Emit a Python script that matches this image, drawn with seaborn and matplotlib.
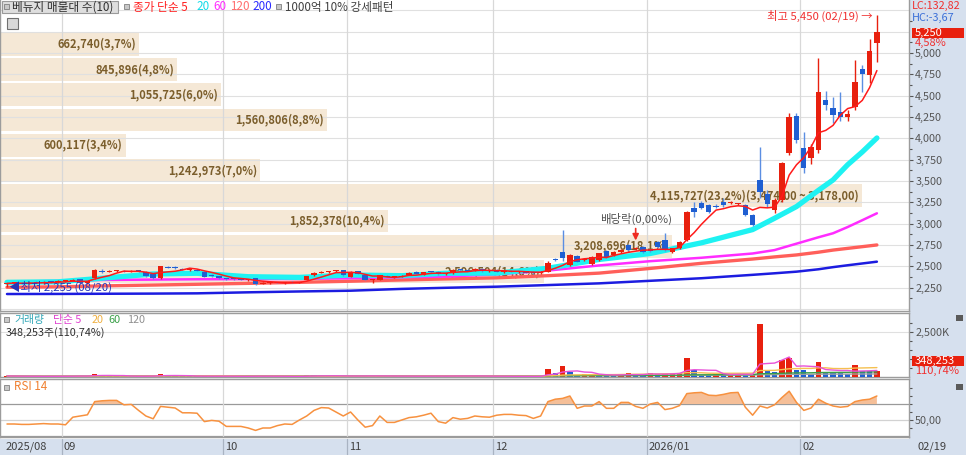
import matplotlib
matplotlib.use('Agg')
import numpy as np
import pandas as pd
import matplotlib.pyplot as plt
import seaborn as sns
from matplotlib.patches import Rectangle
from matplotlib.lines import Line2D

# ------------------------------------------------------------------ data
month_labels = ['2025/08', '09', '10', '11', '12', '2026/01', '02']
month_start = [0, 8, 30, 47, 67, 88, 109]

open_ = [2290, 2300, 2306, 2298, 2310, 2305, 2318, 2312, 2325, 2330,
         2350, 2300, 2362, 2450, 2436, 2440, 2446, 2438, 2444, 2434,
         2405, 2362, 2492, 2484, 2470, 2460, 2455, 2436, 2395, 2385,
         2360, 2350, 2346, 2335, 2360, 2295, 2305, 2310, 2306, 2312,
         2308, 2340, 2395, 2425, 2432, 2440, 2457, 2378, 2440, 2398,
         2338, 2340, 2388, 2374, 2380, 2400, 2435, 2402, 2436, 2436,
         2410, 2420, 2462, 2458, 2455, 2470, 2442, 2455, 2438, 2446,
         2432, 2440, 2425, 2418, 2437, 2580, 2672, 2515, 2621, 2575,
         2527, 2574, 2683, 2633, 2670, 2750, 2705, 2730, 2690, 2789,
         2808, 2670, 2711, 2808, 3180, 3246, 3219, 3205, 3257, 3240,
         3225, 3219, 3101, 3512, 3350, 3160, 3277, 3828, 4262, 3886,
         3769, 3863, 4449, 4355, 4308, 4250, 4367, 4812, 4742, 5117]
high = [2310, 2318, 2315, 2320, 2322, 2325, 2330, 2335, 2340, 2352,
        2356, 2330, 2470, 2472, 2452, 2456, 2458, 2452, 2455, 2440,
        2415, 2508, 2505, 2498, 2482, 2472, 2465, 2442, 2408, 2392,
        2368, 2360, 2355, 2350, 2362, 2315, 2318, 2320, 2318, 2322,
        2320, 2392, 2430, 2440, 2446, 2452, 2462, 2440, 2446, 2402,
        2352, 2402, 2398, 2390, 2395, 2428, 2440, 2436, 2446, 2440,
        2425, 2468, 2472, 2470, 2476, 2478, 2460, 2470, 2452, 2460,
        2448, 2450, 2440, 2450, 2560, 2600, 2926, 2645, 2630, 2600,
        2615, 2660, 2695, 2680, 2700, 2760, 2730, 2740, 2700, 2800,
        2887, 2720, 2800, 3150, 3257, 3260, 3230, 3225, 3300, 3265,
        3245, 3230, 3110, 3898, 3400, 3300, 3720, 4300, 4300, 4074,
        3930, 4941, 4560, 4480, 4540, 4330, 4920, 4860, 5160, 5450]
low = [2255, 2292, 2290, 2292, 2300, 2298, 2306, 2305, 2315, 2322,
       2296, 2295, 2355, 2425, 2428, 2432, 2430, 2430, 2432, 2378,
       2352, 2355, 2476, 2470, 2455, 2448, 2440, 2370, 2372, 2355,
       2342, 2338, 2336, 2325, 2280, 2288, 2296, 2300, 2298, 2302,
       2300, 2335, 2390, 2418, 2424, 2430, 2390, 2372, 2405, 2336,
       2300, 2335, 2372, 2366, 2372, 2395, 2405, 2398, 2426, 2398,
       2402, 2415, 2448, 2440, 2450, 2435, 2430, 2432, 2420, 2428,
       2418, 2420, 2412, 2410, 2430, 2560, 2560, 2505, 2545, 2565,
       2520, 2565, 2600, 2620, 2660, 2680, 2695, 2660, 2670, 2720,
       2685, 2660, 2700, 2800, 3081, 3170, 3130, 3185, 3200, 3230,
       3215, 3090, 2975, 3300, 3200, 3130, 3250, 3800, 3950, 3594,
       3700, 3830, 4330, 4180, 4200, 4200, 4330, 4540, 4650, 4895]
close = [2300, 2306, 2298, 2310, 2305, 2318, 2312, 2325, 2330, 2345,
         2300, 2322, 2457, 2436, 2440, 2446, 2438, 2444, 2440, 2387,
         2362, 2500, 2484, 2478, 2462, 2465, 2448, 2380, 2385, 2362,
         2350, 2346, 2342, 2345, 2290, 2305, 2310, 2306, 2312, 2308,
         2316, 2387, 2425, 2432, 2440, 2446, 2395, 2434, 2410, 2342,
         2348, 2395, 2380, 2382, 2388, 2422, 2410, 2430, 2434, 2404,
         2418, 2460, 2455, 2445, 2468, 2440, 2452, 2438, 2445, 2432,
         2440, 2425, 2418, 2437, 2535, 2570, 2594, 2633, 2554, 2590,
         2605, 2652, 2613, 2672, 2690, 2691, 2720, 2672, 2680, 2730,
         2691, 2710, 2789, 3140, 3140, 3180, 3140, 3195, 3219, 3257,
         3235, 3101, 2984, 3375, 3230, 3277, 3711, 4250, 3980, 3652,
         3898, 4543, 4391, 4273, 4250, 4285, 4660, 4754, 5020, 5250]
volume_k = [60, 45, 40, 35, 42, 38, 50, 44, 40, 55,
            70, 48, 160, 90, 60, 45, 40, 38, 42, 65,
            70, 140, 80, 55, 45, 40, 38, 60, 50, 45,
            40, 35, 38, 42, 75, 45, 35, 30, 32, 35,
            38, 90, 85, 60, 50, 45, 70, 60, 50, 65,
            55, 70, 50, 40, 38, 60, 55, 50, 42, 55,
            45, 80, 55, 45, 60, 50, 45, 40, 38, 35,
            40, 36, 34, 45, 463, 237, 593, 271, 130, 150,
            160, 100, 90, 60, 190, 200, 130, 100, 237, 150,
            190, 200, 210, 1062, 367, 130, 120, 180, 130, 150,
            180, 130, 180, 2966, 310, 300, 932, 1062, 407, 380,
            180, 836, 271, 265, 260, 180, 650, 330, 315, 348.253]
rsi14 = [45, 45, 44.5, 44.5, 45, 45.5, 45, 45, 44, 53.5,
         55, 56.5, 73, 74, 74.5, 74.5, 69, 69.5, 62, 55,
         51.5, 67, 66, 65, 59, 59, 58.5, 48, 49.5, 48.5,
         42, 42, 42, 40, 37, 40, 40, 43, 45, 44.5,
         50, 55, 62, 65.5, 65, 60, 55, 60, 50, 41,
         43, 55, 47, 47, 50, 53, 54, 56, 58.5, 48,
         46, 53, 51, 52, 55, 54, 53.5, 56, 57, 57,
         56, 55.5, 52, 55, 73, 76, 77, 80, 64.6, 67.5,
         67.5, 73, 64.6, 64.6, 72, 72, 67, 64.6, 70, 72,
         63, 64.6, 68, 83, 84, 84.5, 81, 80.5, 82, 84,
         84.5, 66, 56, 67.5, 65, 69, 78, 86, 72, 62,
         65, 76, 71, 67.5, 66, 67, 73, 75, 76, 80]

# moving averages at these candle positions
ma_idx = [0, 7, 13, 20, 26, 33, 40, 47, 54, 60, 67, 74, 81, 88, 95, 102,
          105, 108, 111, 113, 115, 117, 119]
ma20 = [2312, 2318, 2360, 2410, 2418, 2378, 2370, 2398, 2390, 2418, 2420,
        2477, 2580, 2650, 2775, 2930, 3063, 3200, 3390, 3512, 3690, 3840, 4004]
ma60 = [2320, 2328, 2340, 2344, 2348, 2350, 2352, 2360, 2371, 2380, 2405,
        2450, 2510, 2560, 2600, 2650, 2690, 2765, 2840, 2887, 2960, 3040, 3121]
ma120 = [2254, 2260, 2270, 2280, 2289, 2300, 2312, 2325, 2340, 2352, 2365,
         2390, 2420, 2475, 2535, 2585, 2610, 2633, 2665, 2690, 2710, 2730, 2750]
ma200 = [2175, 2176, 2178, 2180, 2183, 2195, 2205, 2214, 2235, 2248, 2261,
         2280, 2300, 2330, 2360, 2400, 2418, 2437, 2465, 2490, 2512, 2533, 2554]

# volume profile (매물대), bottom bin -> top bin
profile_vol = [2596504, 3208696, 1852378, 4115727, 1242973,
               600117, 1560806, 1055725, 845896, 662740]
profile_lo, profile_hi = 2290, 5250

last_close, last_change = 5250, 4.58
last_vol, last_vol_ratio = 348253, 110.74
high_label = '최고 5,450 (02/19)'
low_label = '최저 2,255 (08/20)'
div_idx = 86

# ------------------------------------------------------------------ style
sns.set_theme(style='white')
plt.rcParams['font.family'] = ['Noto Sans CJK KR', 'DejaVu Sans']
plt.rcParams['axes.unicode_minus'] = False

RED = '#e8200e'
BLUE = '#1f5fd2'
BLUE_W = '#5b8ee2'
STRIP = '#d6e0ee'
GRID = '#e0e0e0'

W, H = 966, 455
PX, X0, AXW = 7.31, 7.0, 909
fig = plt.figure(figsize=(W / 100, H / 100), dpi=100)
fig.patch.set_facecolor('white')


def ftext(x, y, s, **kw):
    kw.setdefault('va', 'center')
    kw.setdefault('ha', 'left')
    kw.setdefault('fontsize', 8)
    kw.setdefault('zorder', 5)
    return fig.text(x / W, 1 - y / H, s, **kw)


def frect(x0, y0, x1, y1, **kw):
    r = Rectangle((x0 / W, 1 - y1 / H), (x1 - x0) / W, (y1 - y0) / H,
                  transform=fig.transFigure, **kw)
    fig.patches.append(r)
    return r


def add_ax(y0, y1):
    ax = fig.add_axes([0, 1 - y1 / H, AXW / W, (y1 - y0) / H])
    ax.set_xlim(-X0 / PX, (AXW - X0) / PX)
    ax.set_facecolor('white')
    for s in ax.spines.values():
        s.set_color('#9c9c9c')
        s.set_linewidth(1)
    ax.tick_params(axis='x', bottom=False, labelbottom=False)
    ax.yaxis.tick_right()
    ax.yaxis.set_label_position('right')
    ax.tick_params(axis='y', which='both', direction='out', colors='#555555',
                   labelsize=7.8, length=3, width=0.8, pad=1.5)
    ax.tick_params(axis='y', which='minor', length=2)
    ax.grid(False)
    return ax


def clean(ax):
    ax.set_xlabel('')
    ax.set_ylabel('')


# backgrounds of the right scale strip and the date strip
frect(AXW, 0, W, H, facecolor=STRIP, edgecolor='none', zorder=-5)
frect(0, 439, W, H, facecolor=STRIP, edgecolor='none', zorder=-5)

idx = np.arange(len(close))
o, h, l, c = map(np.asarray, (open_, high, low, close))
up = c >= o

# ------------------------------------------------------------------ price panel
ax = add_ax(0, 311)
ax.set_ylim(1976, 5621)
for p in range(2000, 5751, 250):
    ax.axhline(p, color=GRID, lw=0.8, zorder=1)
for m in month_start[1:]:
    ax.axvline(m - 0.5, color='#d8d8d8', lw=0.9, zorder=1)

edges = np.linspace(profile_lo, profile_hi, len(profile_vol) + 1)
bh = edges[1] - edges[0]
pv = np.asarray(profile_vol)
widths = pv / pv.max() * (862 / PX)
left0 = -X0 / PX
ax.barh(edges[:-1] + bh / 2, widths, left=left0, height=bh * 0.9,
        color='#f5e8d6', linewidth=0, zorder=0.5)
tot = pv.sum()
for k in range(len(pv)):
    lab = f"{pv[k]:,}({pv[k] / tot * 100:.1f}%)".replace('.', ',')
    if pv[k] == pv.max():
        rng = f"({edges[k + 1]:,.2f} ~ {edges[k]:,.2f})"
        rng = rng.replace(',', '#').replace('.', ',').replace('#', ',')
        lab += rng
    ax.text(left0 + widths[k] - 3 / PX, edges[k] + bh / 2, lab, ha='right',
            va='center', fontsize=8, fontweight='bold', color='#7b5e2c', zorder=2)

ma5 = pd.Series(close).rolling(5, min_periods=1).mean()
sns.lineplot(x=ma_idx, y=ma200, ax=ax, color='#1c1ce0', lw=1.8, legend=False, zorder=2)
sns.lineplot(x=ma_idx, y=ma120, ax=ax, color='#ff5f5a', lw=2.4, legend=False, zorder=2)
sns.lineplot(x=ma_idx, y=ma60, ax=ax, color='#ff2cff', lw=1.8, legend=False, zorder=2)
sns.lineplot(x=ma_idx, y=ma20, ax=ax, color='#1ef2f2', lw=3.8, legend=False, zorder=2)
sns.lineplot(x=idx, y=ma5, ax=ax, color='#ff1a1a', lw=1.1, legend=False, zorder=6)

wick_col = np.where(up, RED, BLUE_W)
ax.vlines(idx, l, h, colors=wick_col, lw=1, zorder=4)
ax.bar(idx, np.maximum(np.abs(c - o), 12), bottom=np.minimum(o, c), width=0.74,
       color=np.where(up, RED, BLUE), linewidth=0, zorder=5)

ax.set_yticks(np.arange(2250, 5001, 250))
ax.set_yticklabels([f"{v:,}" for v in range(2250, 5001, 250)])
ax.set_yticks(np.arange(2125, 5500, 250), minor=True)
ax.spines['top'].set_visible(False)
clean(ax)

# annotations on the price panel
ax.annotate(high_label + ' →', xy=(idx[-1], max(high)), xytext=(-3, -1),
            textcoords='offset points', ha='right', va='center', fontsize=8.2,
            color='#f03030', zorder=8)
ax.text(0.3, min(low), '◀' + low_label, ha='left', va='center', fontsize=8.2,
        color='#2636b8', zorder=8)
ax.annotate('', xy=(div_idx, 2770), xytext=(div_idx, 2975),
            arrowprops=dict(arrowstyle='-|>', color='#ee2a20', lw=1.2,
                            mutation_scale=9), zorder=8)
ax.text(div_idx, 3050, '배당락(0,00%)', ha='center', va='center', fontsize=8.2,
        color='#505050', zorder=8)

# ------------------------------------------------------------------ volume panel
axv = add_ax(313, 377)
vol = np.asarray(volume_k, dtype=float)
axv.set_ylim(0, 3570)
axv.axhline(2500, color=GRID, lw=0.8, zorder=1)
for m in month_start[1:]:
    axv.axvline(m - 0.5, color='#d8d8d8', lw=0.9, zorder=1)
vup = np.r_[True, vol[1:] >= vol[:-1]]
axv.bar(idx, vol, width=0.74, color=np.where(vup, RED, BLUE), linewidth=0, zorder=3)
vs = pd.Series(vol)
for n, colr in [(120, '#a0a0a0'), (60, '#3aa048'), (20, '#f5c050'), (5, '#e852d8')]:
    sns.lineplot(x=idx, y=vs.rolling(n, min_periods=1).mean(), ax=axv, color=colr,
                 lw=1.0, legend=False, zorder=4)
axv.set_yticks([2500])
axv.set_yticklabels(['2,500K'])
axv.set_yticks([500, 1000, 1500, 2000, 3000], minor=True)
clean(axv)

# ------------------------------------------------------------------ RSI panel
axr = add_ax(379, 437)
axr.set_ylim(28.75, 101.25)
rs = np.asarray(rsi14, dtype=float)
axr.axhline(70, color='#9a9a9a', lw=0.9, zorder=1)
axr.axhline(50, color='#d2d2d2', lw=0.9, zorder=1)
axr.axhline(30, color='#9a9a9a', lw=0.9, zorder=1)
for m in month_start[1:]:
    axr.axvline(m - 0.5, color='#d8d8d8', lw=0.9, zorder=1)
axr.fill_between(idx, 70, rs, where=rs > 70, interpolate=True, color='#f5bf98',
                 linewidth=0, zorder=2)
sns.lineplot(x=idx, y=rs, ax=axr, color='#f7913f', lw=1.1, legend=False, zorder=3)
axr.set_yticks([50])
axr.set_yticklabels(['50,00'])
axr.set_yticks([40, 60, 70, 80, 90], minor=True)
clean(axr)

# ------------------------------------------------------------------ date strip
for lab, m in zip(month_labels, month_start):
    xp = X0 + PX * (m - 0.5)
    if m > 0:
        fig.lines.append(Line2D([xp / W, xp / W], [0, 16 / H], transform=fig.transFigure,
                                color='#a9b3c2', lw=0.9))
    ftext(max(xp, 1) + 2, 447, lab, color='#404040')
ftext(918, 447, '02/19', color='#404040')

# ------------------------------------------------------------------ headers
frect(2, 1, 118, 13, facecolor='#dedede', edgecolor='#9a9a9a', lw=0.8, zorder=4)
for (xs, ys) in [(4, 4), (124, 4), (276, 4), (4, 317), (4, 385)]:
    frect(xs, ys, xs + 5, ys + 5, facecolor='#c8c8c8', edgecolor='#808080', lw=0.6, zorder=6)
frect(7, 18, 18, 29, facecolor='#d8d8d8', edgecolor='#707070', lw=0.8, zorder=6)
ftext(12, 7, '베뉴지 매물대 수(10)', color='#303030', fontsize=8.4)
for s, x, colr in [('종가 단순 5', 133, '#ff2020'), ('20', 196, '#11dbe8'),
                   ('60', 213, '#ff2cff'), ('120', 230, '#ff6e6e'),
                   ('200', 252, '#2a2aff')]:
    ftext(x, 7, s, color=colr, fontsize=8.4)
ftext(285, 7, '1000억 10% 강세패턴', color='#404040', fontsize=8.4)

ftext(14, 320, '거래량', color='#34a8b8', fontsize=7.8)
for s, x, colr in [('단순 5', 53, '#e040d0'), ('20', 92, '#f0b040'),
                   ('60', 108, '#3aa048'), ('120', 127, '#909090')]:
    ftext(x, 320, s, color=colr, fontsize=7.8)
ftext(6, 333, f"{last_vol:,}주({last_vol_ratio:.2f}%)".replace('.', ','), color='#303030',
      fontsize=7.8)
ftext(14, 387, 'RSI 14', color='#f08030', fontsize=8.4)

# right strip labels
ftext(912, 5.5, 'LC:132,82', color='#f03030', fontsize=7.8)
ftext(912, 17.5, 'HC:-3,67', color='#3a6fd8', fontsize=7.8)
frect(912, 28, 964, 38, facecolor=RED, edgecolor='none', zorder=4)
ftext(915, 33, f"{last_close:,}", color='white')
ftext(915, 43, f"{last_change:.2f}%".replace('.', ','), color='#f03030')
frect(912, 356, 964, 366, facecolor=RED, edgecolor='none', zorder=4)
ftext(915, 361, f"{last_vol:,}", color='white')
ftext(915, 371, f"{last_vol_ratio:.2f}%".replace('.', ','), color='#f03030')
for ys in (315, 384):
    frect(956, ys, 963, ys + 6, facecolor='#5a5a5a', edgecolor='none', zorder=6)

fig.savefig('out.png', dpi=100)
